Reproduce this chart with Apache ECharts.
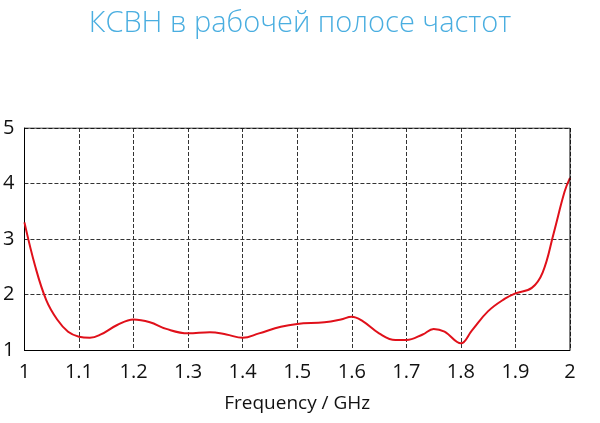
<!DOCTYPE html>
<html><head><meta charset="utf-8">
<script src="https://cdn.jsdelivr.net/npm/echarts@6/dist/echarts.min.js"></script>
<style>html,body{margin:0;padding:0;background:#fff}#c{width:600px;height:423px}</style>
</head><body><div id="c"></div>
<script>
var freq = [1.0, 1.02, 1.04, 1.06, 1.08, 1.1, 1.12, 1.14, 1.17, 1.2, 1.23, 1.26, 1.3, 1.34, 1.37, 1.4, 1.43, 1.47, 1.5, 1.55, 1.58, 1.6, 1.62, 1.65, 1.68, 1.7, 1.73, 1.75, 1.77, 1.8, 1.82, 1.85, 1.88, 1.9, 1.93, 1.95, 1.97, 1.99, 2.0];
var vswr = [3.3, 2.5, 1.9, 1.55, 1.33, 1.24, 1.22, 1.28, 1.45, 1.55, 1.5, 1.38, 1.3, 1.32, 1.28, 1.22, 1.3, 1.42, 1.47, 1.5, 1.55, 1.6, 1.52, 1.3, 1.18, 1.18, 1.28, 1.38, 1.33, 1.12, 1.35, 1.7, 1.92, 2.02, 2.12, 2.4, 3.1, 3.85, 4.1];
var chart = echarts.init(document.getElementById('c'));
chart.setOption({
  title: {text: 'КСВН в рабочей полосе частот', left: 'center', top: 4,
    textStyle: {color: '#4aaee0', fontSize: 29, fontWeight: 300, fontFamily: 'Open Sans'}},
  grid: {left: 22, right: 30, top: 128, bottom: 73},
  xAxis: {type: 'value', min: 1, max: 2, interval: 0.1,
    name: 'Frequency / GHz', nameLocation: 'middle', nameGap: 44,
    nameTextStyle: {color: '#111', fontSize: 19, fontFamily: 'Open Sans'},
    axisLine: {lineStyle: {color: '#000'}}, axisTick: {show: false},
    axisLabel: {color: '#111', fontSize: 20, fontFamily: 'Open Sans', margin: 12,
      formatter: function (v) { return +v.toFixed(1) + ''; }},
    splitLine: {lineStyle: {color: '#333', type: 'dashed'}}},
  yAxis: {type: 'value', min: 1, max: 5, interval: 1,
    axisLine: {show: true, lineStyle: {color: '#000'}}, axisTick: {show: false},
    axisLabel: {color: '#111', fontSize: 20, fontFamily: 'Open Sans', margin: 10},
    splitLine: {lineStyle: {color: '#333', type: 'dashed'}}},
  series: [{type: 'line', data: freq.map(function (f, i) { return [f, vswr[i]]; }),
    smooth: 0.4, showSymbol: false, lineStyle: {color: '#e0101a', width: 2}},
    {type: 'line', data: [[1, 5], [2, 5], [2, 1]], showSymbol: false, silent: true,
    lineStyle: {color: '#000', width: 1}}]
});
</script></body></html>
